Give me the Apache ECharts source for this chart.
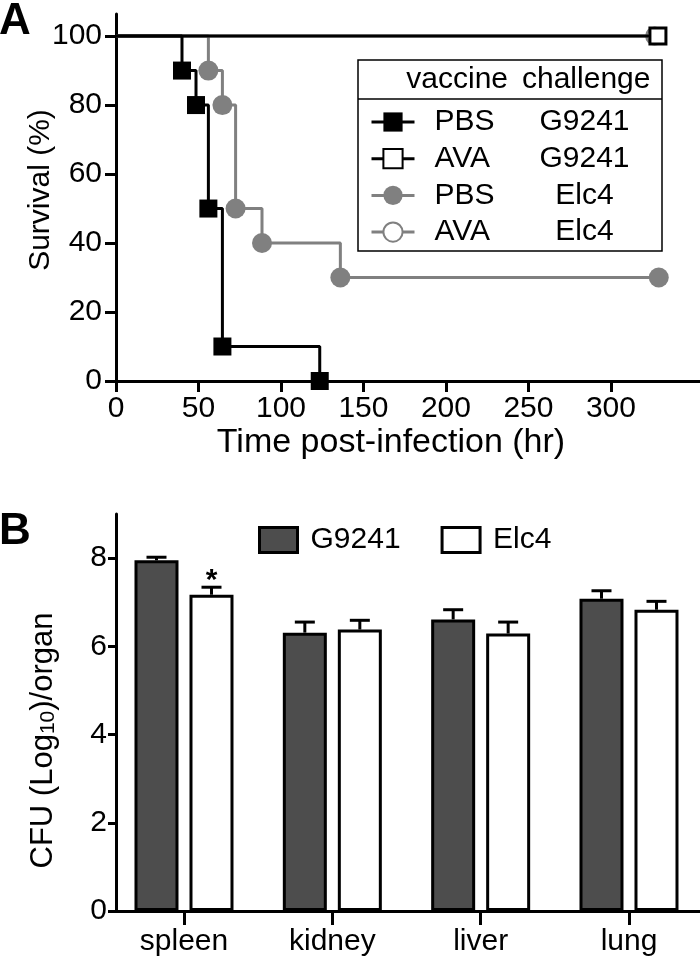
<!DOCTYPE html>
<html><head><meta charset="utf-8">
<script src="https://cdn.jsdelivr.net/npm/echarts@6/dist/echarts.min.js"></script>
<style>html,body{margin:0;padding:0;background:#fff}#c{width:700px;height:957px}</style>
</head><body><div id="c"></div>
<script>
// ---------- Panel A: survival (Kaplan–Meier) ----------
const pbsG9241Time = [0, 40, 48.5, 56, 64.5, 123.5];
const pbsG9241Surv = [100, 90, 80, 50, 10, 0];
const avaG9241Time = [0, 328.5];
const avaG9241Surv = [100, 100];
const pbsElc4Time = [0, 56, 64.5, 72.5, 88.5, 136, 329];
const pbsElc4Surv = [100, 90, 80, 50, 40, 30, 30];
const avaElc4Time = [0, 326.5];
const avaElc4Surv = [100, 100];
const survXTicks = [0, 50, 100, 150, 200, 250, 300];
const survYTicks = [0, 20, 40, 60, 80, 100];
const legendNames = ['PBS G9241', 'AVA G9241', 'PBS Elc4', 'AVA Elc4'];
const legendVaccine = ['PBS', 'AVA', 'PBS', 'AVA'];
const legendChallenge = ['G9241', 'G9241', 'Elc4', 'Elc4'];

// ---------- Panel B: organ burden ----------
const organs = ['spleen', 'kidney', 'liver', 'lung'];
const cfuG9241 = [7.95, 6.31, 6.61, 7.08];
const cfuG9241Err = [0.07, 0.24, 0.22, 0.18];
const cfuElc4 = [7.17, 6.38, 6.29, 6.83];
const cfuElc4Err = [0.17, 0.21, 0.26, 0.19];
const elc4Signif = ['*', '', '', ''];
const cfuYTicks = [0, 2, 4, 6, 8];

const FONT = '"Liberation Sans", Arial, Helvetica, sans-serif';
const GRAY = '#808080';

function kmData(t, s) {
  return t.map((x, i) => i === 0 ? { value: [x, s[i]], symbol: 'none' } : [x, s[i]]);
}

function kmSeries(name, t, s, color, symbol, size, open, z) {
  return {
    type: 'line', name: name, xAxisIndex: 0, yAxisIndex: 0,
    data: kmData(t, s), step: 'end', clip: false, z: z,
    symbol: symbol, symbolSize: size, showAllSymbol: true,
    lineStyle: { color: color, width: 3 },
    itemStyle: open ? { color: '#fff', borderColor: color, borderWidth: 3 } : { color: color, borderWidth: 0 },
    emphasis: { disabled: true }
  };
}

function errRender(values, errs, dx, marks) {
  return function (params, api) {
    const i = params.dataIndex;
    const x = api.value(0);
    const p0 = api.coord([x, values[i]]);
    const p1 = api.coord([x, values[i] + errs[i]]);
    const cx = p0[0] + dx;
    const children = [
      { type: 'line', shape: { x1: cx, y1: p0[1], x2: cx, y2: p1[1] }, style: { stroke: '#000', lineWidth: 3 } },
      { type: 'line', shape: { x1: cx - 10, y1: p1[1], x2: cx + 10, y2: p1[1] }, style: { stroke: '#000', lineWidth: 3 } }
    ];
    if (marks && marks[i]) {
      children.push({ type: 'text', style: { text: marks[i], x: cx, y: p1[1] - 21, align: 'center', verticalAlign: 'top', font: 'bold 30px ' + FONT, fill: '#000' } });
    }
    return { type: 'group', children: children };
  };
}

const chart = echarts.init(document.getElementById('c'), null, { renderer: 'canvas' });
const axisLine = { show: true, onZero: false, lineStyle: { color: '#000', width: 3 } };

chart.setOption({
  animation: false,
  textStyle: { fontFamily: FONT, color: '#000' },
  grid: [
    { left: 116, right: 0, top: 14, bottom: 576 },
    { left: 116, right: 0, top: 514, bottom: 45 }
  ],
  xAxis: [
    {
      type: 'value', gridIndex: 0, min: 0, max: 354,
      axisLine: axisLine,
      axisTick: { show: true, length: 11, lineStyle: { color: '#000', width: 3 }, customValues: survXTicks },
      axisLabel: { customValues: survXTicks, fontSize: 30, color: '#000', margin: 13, fontFamily: FONT },
      splitLine: { show: false },
      name: 'Time post-infection (hr)', nameLocation: 'middle', nameGap: 45, nameMoveOverlap: false,
      nameTextStyle: { fontSize: 34, color: '#000', fontFamily: FONT, padding: [0, 34, 0, 0] }
    },
    {
      type: 'value', gridIndex: 1, min: -0.4584, max: 3.4787,
      axisLine: axisLine,
      axisTick: { show: true, length: 14, lineStyle: { color: '#000', width: 3 }, customValues: organs.map((_, i) => i) },
      axisLabel: { customValues: organs.map((_, i) => i), formatter: v => organs[Math.round(v)], fontSize: 30, color: '#000', margin: 16, fontFamily: FONT },
      splitLine: { show: false }
    }
  ],
  yAxis: [
    {
      type: 'value', gridIndex: 0, min: 0, max: 106.4,
      axisLine: axisLine,
      axisTick: { show: true, length: 11, lineStyle: { color: '#000', width: 3 }, customValues: survYTicks },
      axisLabel: { customValues: survYTicks, fontSize: 30, color: '#000', margin: 14, fontFamily: FONT },
      splitLine: { show: false },
      name: 'Survival (%)', nameLocation: 'middle', nameGap: 60, nameMoveOverlap: false,
      nameTextStyle: { fontSize: 30, color: '#000', fontFamily: FONT, padding: [0, 0, 0, 15] }
    },
    {
      type: 'value', gridIndex: 1, min: 0, max: 9,
      axisLine: axisLine,
      axisTick: { show: true, length: 8, lineStyle: { color: '#000', width: 3 }, customValues: cfuYTicks },
      axisLabel: { customValues: cfuYTicks, fontSize: 30, color: '#000', margin: 9, fontFamily: FONT },
      splitLine: { show: false },
      name: 'CFU (Log{sub|10})/organ', nameLocation: 'middle', nameGap: 57, nameMoveOverlap: false,
      nameTextStyle: {
        fontSize: 31, color: '#000', fontFamily: FONT, padding: [0, 56, 0, 0],
        rich: { sub: { fontSize: 21, fontFamily: FONT, color: '#000', verticalAlign: 'bottom' } }
      }
    }
  ],
  legend: [
    {
      data: legendNames, orient: 'vertical', left: 370, top: 107, padding: 0,
      itemWidth: 43, itemHeight: 24, itemGap: 6.7, selectedMode: false,
      lineStyle: { width: 3 },
      formatter: name => {
        const i = legendNames.indexOf(name);
        return '{s|}{a|' + legendVaccine[i] + '}{b|' + legendChallenge[i] + '}';
      },
      textStyle: {
        fontSize: 30, color: '#000', fontFamily: FONT, lineHeight: 30,
        rich: {
          s: { width: 15, lineHeight: 30 },
          a: { width: 93, fontSize: 30, lineHeight: 30, fontFamily: FONT, color: '#000' },
          b: { width: 114, align: 'center', fontSize: 30, lineHeight: 30, fontFamily: FONT, color: '#000' }
        }
      }
    },
    {
      data: ['G9241', 'Elc4'], orient: 'horizontal', left: 258, top: 525, padding: 0,
      itemWidth: 38, itemHeight: 25, itemGap: 40, icon: 'rect', selectedMode: false,
      itemStyle: { borderColor: '#000', borderWidth: 3 },
      textStyle: { fontSize: 30, color: '#000', fontFamily: FONT, padding: [0, 0, 0, 8] }
    }
  ],
  series: [
    kmSeries('PBS Elc4', pbsElc4Time, pbsElc4Surv, GRAY, 'circle', 20, false, 2),
    kmSeries('AVA Elc4', avaElc4Time, avaElc4Surv, GRAY, 'circle', 16, true, 2),
    kmSeries('PBS G9241', pbsG9241Time, pbsG9241Surv, '#000', 'rect', 18, false, 3),
    kmSeries('AVA G9241', avaG9241Time, avaG9241Surv, '#000', 'rect', 16, true, 3),
    {
      type: 'bar', name: 'G9241', xAxisIndex: 1, yAxisIndex: 1,
      data: organs.map((_, i) => [i, cfuG9241[i]]),
      barWidth: 44, barGap: '25%',
      itemStyle: { color: '#4d4d4d', borderColor: '#000', borderWidth: 3 },
      emphasis: { disabled: true }
    },
    {
      type: 'bar', name: 'Elc4', xAxisIndex: 1, yAxisIndex: 1,
      data: organs.map((_, i) => [i, cfuElc4[i]]),
      barWidth: 44, barGap: '25%',
      itemStyle: { color: '#fff', borderColor: '#000', borderWidth: 3 },
      emphasis: { disabled: true }
    },
    {
      type: 'custom', xAxisIndex: 1, yAxisIndex: 1, z: 5, silent: true,
      data: organs.map((_, i) => [i, cfuG9241[i]]),
      renderItem: errRender(cfuG9241, cfuG9241Err, -27.5, null)
    },
    {
      type: 'custom', xAxisIndex: 1, yAxisIndex: 1, z: 5, silent: true,
      data: organs.map((_, i) => [i, cfuElc4[i]]),
      renderItem: errRender(cfuElc4, cfuElc4Err, 27.5, elc4Signif)
    }
  ],
  graphic: [
    { type: 'text', left: -1, top: 0, style: { text: 'A', font: 'bold 44px ' + FONT, fill: '#000' } },
    { type: 'text', left: -1, top: 510, style: { text: 'B', font: 'bold 44px ' + FONT, fill: '#000' } },
    { type: 'rect', shape: { x: 358, y: 60, width: 304, height: 191 }, style: { fill: 'none', stroke: '#000', lineWidth: 1.5 }, z: 10 },
    { type: 'line', shape: { x1: 358, y1: 99, x2: 662, y2: 99 }, style: { stroke: '#000', lineWidth: 1.5 }, z: 10 },
    { type: 'text', x: 508, y: 80, style: { text: 'vaccine', align: 'right', verticalAlign: 'middle', font: '30px ' + FONT, fill: '#000' }, z: 10 },
    { type: 'text', x: 522, y: 80, style: { text: 'challenge', align: 'left', verticalAlign: 'middle', font: '30px ' + FONT, fill: '#000' }, z: 10 }
  ]
});
</script>
</body></html>
